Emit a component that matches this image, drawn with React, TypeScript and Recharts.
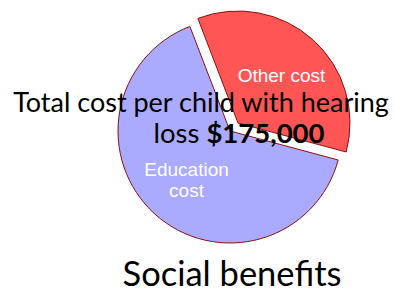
import React from "react";
import { PieChart, Pie, Cell } from "recharts";

const categories = ["Other cost", "Education cost"];
const shares = [35, 65];
const fills = ["#FF5555", "#AAAAFF"];
const explodedIndex = 0;
const headlineLine1 = "Total cost per child with hearing";
const headlineLine2a = "loss ";
const headlineLine2b = "$175,000";
const title = "Social benefits";

const data = categories.map((name, i) => ({ name, value: shares[i] }));

const RADIAN = Math.PI / 180;
const STROKE = "#8B1010";

const makeLabel = (onlyIndex: number) => (props: any) => {
  const { cx, cy, midAngle, outerRadius, index, name } = props;
  if (index !== onlyIndex) return null;
  const r = outerRadius * 0.58;
  const x = cx + r * Math.cos(-midAngle * RADIAN);
  const y = cy + r * Math.sin(-midAngle * RADIAN);
  const words = String(name).length > 10 ? String(name).split(" ") : [String(name)];
  const lh = 21.5;
  const startY = y - ((words.length - 1) * lh) / 2;
  return (
    <text
      x={x}
      y={startY}
      fill="#ffffff"
      textAnchor="middle"
      dominantBaseline="central"
      fontFamily="'Liberation Sans', Arial, sans-serif"
      fontSize={19}
    >
      {words.map((w, i) => (
        <tspan key={i} x={x} y={startY + i * lh} dominantBaseline="central">
          {w}
        </tspan>
      ))}
    </text>
  );
};

export default function App() {
  const start = -15;
  return (
    <div style={{ position: "absolute", left: 0, top: 0, width: 395, height: 296, background: "#fff" }}>
      <PieChart width={395} height={296} margin={{ top: 0, right: 0, bottom: 0, left: 0 }}>
        <Pie
          data={data}
          dataKey="value"
          nameKey="name"
          cx={230}
          cy={131}
          outerRadius={112}
          startAngle={start}
          endAngle={start + 360}
          isAnimationActive={false}
          labelLine={false}
          label={makeLabel(1)}
        >
          {data.map((d, i) => (
            <Cell
              key={d.name}
              fill={i === explodedIndex ? "none" : fills[i]}
              stroke={i === explodedIndex ? "none" : STROKE}
              strokeWidth={1}
            />
          ))}
        </Pie>
        <Pie
          data={data}
          dataKey="value"
          nameKey="name"
          cx={238}
          cy={123}
          outerRadius={112}
          startAngle={start}
          endAngle={start + 360}
          isAnimationActive={false}
          labelLine={false}
          label={makeLabel(0)}
        >
          {data.map((d, i) => (
            <Cell
              key={d.name}
              fill={i === explodedIndex ? fills[i] : "none"}
              stroke={i === explodedIndex ? STROKE : "none"}
              strokeWidth={1}
            />
          ))}
        </Pie>
      </PieChart>
      <svg
        width={395}
        height={296}
        style={{ position: "absolute", left: 0, top: 0, pointerEvents: "none" }}
      >
        <text x={201} y={112} textAnchor="middle" fontFamily="Lato, sans-serif" fontSize={27} fill="#000">
          {headlineLine1}
        </text>
        <text x={239} y={143} textAnchor="middle" fontFamily="Lato, sans-serif" fontSize={27.5} fill="#000">
          <tspan>{headlineLine2a}</tspan>
          <tspan fontWeight="bold">{headlineLine2b}</tspan>
        </text>
        <text x={232} y={286} textAnchor="middle" fontFamily="Lato, sans-serif" fontSize={34.5} fill="#000">
          {title}
        </text>
      </svg>
    </div>
  );
}
